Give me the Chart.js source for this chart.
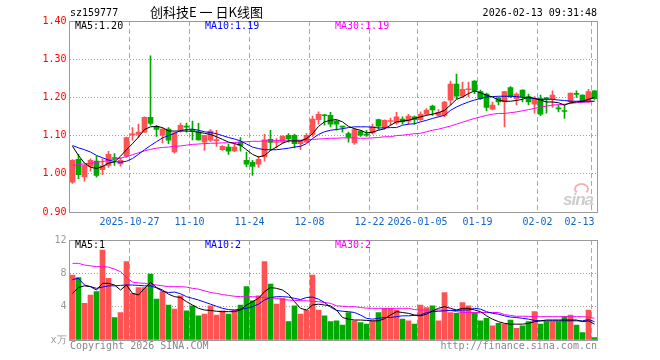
<!DOCTYPE html>
<html>
<head>
<meta charset="utf-8">
<script src="https://cdn.jsdelivr.net/npm/chart.js@4.4.1/dist/chart.umd.min.js"></script>
<style>
  body { margin: 0; background: #fff; }
  #wrap { position: relative; width: 660px; height: 360px; overflow: hidden; }
  canvas { position: absolute; left: 0; }
  .txt { position: absolute; font: 10px "DejaVu Sans Mono", monospace; line-height: 12px; white-space: nowrap; color: #000; }
</style>
</head>
<body>
<div id="wrap">
  <canvas id="kline" width="660" height="232" style="top:0"></canvas>
  <canvas id="vol" width="660" height="130" style="top:230px"></canvas>
  <div class="txt" style="left:70px;top:7px">sz159777</div>
  <div class="txt" style="left:150px;top:3px;font:13px 'Noto Sans CJK SC';line-height:18px">创科技E 一 日K线图</div>
  <div class="txt" style="right:63px;top:7px">2026-02-13 09:31:48</div>
  <div class="txt" style="left:70px;top:340px;color:#888">Copyright 2026 SINA.COM</div>
  <div class="txt" style="right:63px;top:340px;color:#888">http://finance.sina.com.cn</div>
  <div style="position:absolute;left:574px;top:183px;width:11px;height:8px;border:2px solid #f3b3b3;border-radius:50%;border-bottom-color:transparent"></div>
  <div style="position:absolute;left:563px;top:190px;font:italic bold 17px 'Liberation Sans';color:#cdcdcd;letter-spacing:-1px">sina</div>
</div>
<script>
// trading days shown
const dates = [
  '2025-10-13','2025-10-14','2025-10-15','2025-10-16','2025-10-17','2025-10-20','2025-10-21','2025-10-22','2025-10-23','2025-10-24',
  '2025-10-27','2025-10-28','2025-10-29','2025-10-30','2025-10-31','2025-11-03','2025-11-04','2025-11-05','2025-11-06','2025-11-07',
  '2025-11-10','2025-11-11','2025-11-12','2025-11-13','2025-11-14','2025-11-17','2025-11-18','2025-11-19','2025-11-20','2025-11-21',
  '2025-11-24','2025-11-25','2025-11-26','2025-11-27','2025-11-28','2025-12-01','2025-12-02','2025-12-03','2025-12-04','2025-12-05',
  '2025-12-08','2025-12-09','2025-12-10','2025-12-11','2025-12-12','2025-12-15','2025-12-16','2025-12-17','2025-12-18','2025-12-19',
  '2025-12-22','2025-12-23','2025-12-24','2025-12-25','2025-12-26','2025-12-29','2025-12-30','2025-12-31',
  '2026-01-05','2026-01-06','2026-01-07','2026-01-08','2026-01-09','2026-01-12','2026-01-13','2026-01-14','2026-01-15','2026-01-16',
  '2026-01-19','2026-01-20','2026-01-21','2026-01-22','2026-01-23','2026-01-26','2026-01-27','2026-01-28','2026-01-29','2026-01-30',
  '2026-02-02','2026-02-03','2026-02-04','2026-02-05','2026-02-06','2026-02-09','2026-02-10','2026-02-11','2026-02-12','2026-02-13'
];

const opens = [
  0.978,1.038,0.992,1.019,1.033,1.011,1.022,1.042,1.026,1.046,
  1.102,1.103,1.109,1.148,1.124,1.101,1.117,1.057,1.114,1.124,
  1.115,1.110,1.083,1.088,1.087,1.063,1.070,1.060,1.083,1.035,
  1.030,1.025,1.044,1.090,1.082,1.083,1.101,1.101,1.079,1.083,
  1.103,1.142,1.154,1.153,1.138,1.124,1.105,1.081,1.112,1.104,
  1.107,1.142,1.121,1.137,1.133,1.143,1.138,1.149,1.142,1.156,
  1.177,1.153,1.153,1.193,1.235,1.203,1.220,1.243,1.215,1.209,
  1.169,1.199,1.188,1.226,1.197,1.219,1.202,1.182,1.197,1.198,
  1.197,1.172,1.165,1.188,1.210,1.206,1.188,1.217
];
const highs = [
  1.037,1.051,1.024,1.039,1.046,1.039,1.059,1.053,1.042,1.096,
  1.121,1.130,1.149,1.309,1.127,1.119,1.121,1.109,1.133,1.133,
  1.138,1.132,1.101,1.116,1.114,1.074,1.077,1.080,1.095,1.057,
  1.035,1.046,1.103,1.114,1.092,1.100,1.105,1.104,1.087,1.105,
  1.151,1.162,1.156,1.161,1.140,1.125,1.109,1.119,1.114,1.114,
  1.130,1.143,1.141,1.146,1.161,1.149,1.156,1.151,1.162,1.171,
  1.180,1.168,1.190,1.243,1.261,1.240,1.240,1.244,1.219,1.211,
  1.188,1.200,1.216,1.228,1.212,1.220,1.209,1.202,1.206,1.200,
  1.217,1.180,1.180,1.211,1.217,1.207,1.221,1.218
];
const lows = [
  0.975,0.987,0.981,1.007,0.991,0.998,1.017,1.022,1.020,1.043,
  1.088,1.095,1.108,1.127,1.098,1.081,1.079,1.054,1.109,1.109,
  1.089,1.088,1.061,1.085,1.072,1.061,1.051,1.058,1.059,1.018,
  0.996,1.017,1.033,1.061,1.068,1.080,1.083,1.068,1.063,1.082,
  1.098,1.130,1.127,1.123,1.114,1.109,1.083,1.077,1.098,1.098,
  1.104,1.116,1.117,1.127,1.130,1.130,1.130,1.130,1.140,1.154,
  1.153,1.151,1.149,1.180,1.197,1.200,1.201,1.210,1.195,1.165,
  1.167,1.180,1.123,1.199,1.180,1.188,1.180,1.159,1.152,1.159,
  1.174,1.162,1.145,1.184,1.200,1.187,1.187,1.195
];
const closes = [
  1.035,0.998,1.022,1.035,0.996,1.021,1.051,1.040,1.035,1.095,
  1.104,1.109,1.148,1.132,1.116,1.117,1.088,1.107,1.127,1.122,
  1.113,1.089,1.101,1.112,1.089,1.072,1.059,1.070,1.074,1.025,
  1.019,1.038,1.089,1.082,1.084,1.098,1.092,1.079,1.086,1.101,
  1.143,1.156,1.152,1.130,1.130,1.122,1.095,1.116,1.101,1.101,
  1.123,1.125,1.140,1.139,1.149,1.136,1.151,1.142,1.156,1.167,
  1.167,1.161,1.188,1.235,1.203,1.221,1.222,1.217,1.197,1.174,
  1.180,1.188,1.215,1.202,1.209,1.202,1.188,1.195,1.156,1.196,
  1.206,1.170,1.163,1.211,1.208,1.188,1.215,1.197
];

// moving averages as drawn on the price panel
const ma5 = [
  1.072,1.048,1.028,1.017,1.014,1.019,1.028,1.031,1.046,1.063,
  1.079,1.096,1.116,1.123,1.124,1.121,1.112,1.112,1.112,1.112,
  1.111,1.109,1.106,1.103,1.097,1.090,1.083,1.079,1.075,1.063,
  1.051,1.044,1.048,1.061,1.070,1.080,1.086,1.086,1.086,1.092,
  1.105,1.124,1.136,1.140,1.142,1.136,1.124,1.118,1.114,1.107,
  1.109,1.114,1.118,1.127,1.136,1.138,1.140,1.145,1.149,1.153,
  1.156,1.160,1.166,1.180,1.195,1.201,1.210,1.217,1.212,1.206,
  1.201,1.193,1.190,1.190,1.192,1.195,1.201,1.197,1.193,1.188,
  1.188,1.186,1.180,1.186,1.188,1.190,1.195,1.200
];
const ma10 = [
  1.074,1.068,1.063,1.057,1.048,1.042,1.036,1.032,1.030,1.033,
  1.040,1.051,1.063,1.074,1.084,1.094,1.100,1.106,1.113,1.116,
  1.117,1.114,1.110,1.108,1.105,1.100,1.095,1.091,1.086,1.078,
  1.070,1.066,1.063,1.063,1.063,1.065,1.067,1.070,1.072,1.079,
  1.092,1.103,1.110,1.114,1.116,1.118,1.121,1.123,1.123,1.123,
  1.122,1.120,1.120,1.121,1.121,1.127,1.130,1.131,1.136,1.140,
  1.145,1.149,1.153,1.166,1.175,1.182,1.188,1.193,1.197,1.201,
  1.202,1.203,1.203,1.203,1.202,1.200,1.199,1.197,1.195,1.195,
  1.195,1.193,1.192,1.190,1.190,1.190,1.190,1.190
];
const ma30 = [
  1.022,1.024,1.026,1.028,1.030,1.032,1.035,1.038,1.041,1.045,
  1.050,1.055,1.060,1.064,1.067,1.069,1.070,1.072,1.073,1.075,
  1.077,1.078,1.079,1.080,1.080,1.081,1.081,1.082,1.083,1.084,
  1.085,1.085,1.086,1.086,1.087,1.088,1.088,1.088,1.088,1.089,
  1.090,1.091,1.092,1.093,1.093,1.094,1.094,1.094,1.093,1.093,
  1.094,1.095,1.097,1.097,1.100,1.101,1.103,1.105,1.106,1.110,
  1.114,1.117,1.121,1.125,1.130,1.135,1.140,1.145,1.149,1.153,
  1.156,1.158,1.158,1.160,1.162,1.165,1.168,1.171,1.175,1.177,
  1.180,1.181,1.182,1.184,1.186,1.187,1.188,1.190
];

// volume panel, in units of 10,000
const volumes = [
  7.8,7.5,4.4,5.4,5.8,10.8,7.4,2.7,3.3,9.4,
  5.6,6.3,6.3,7.9,4.9,5.8,4.2,3.7,5.3,3.5,
  4.1,2.9,3.1,4.1,3.0,3.5,3.1,3.6,4.2,6.4,
  4.7,5.3,9.4,6.7,4.3,5.0,2.2,4.1,3.1,3.6,
  7.8,3.6,2.9,2.2,2.3,1.8,3.3,2.3,2.1,1.9,
  2.3,3.3,3.8,3.8,3.6,2.5,2.3,1.9,4.2,3.9,
  4.1,2.3,5.7,3.3,3.2,4.5,4.1,3.3,2.3,2.6,
  1.7,2.0,1.9,2.4,1.4,1.7,2.2,3.4,1.9,2.2,
  2.2,2.2,2.8,3.0,1.8,0.9,3.6,0.3
];
const volMa5 = [
  5.6,6.3,6.5,6.4,6.0,6.8,6.8,6.6,6.0,6.6,
  5.6,5.4,6.2,6.9,6.3,6.0,5.5,5.2,5.1,4.6,
  4.2,3.8,3.6,3.55,3.45,3.4,3.4,3.4,3.6,4.2,
  4.6,5.0,5.8,6.3,6.2,6.0,5.5,4.6,3.8,3.6,
  4.2,4.3,4.2,4.1,3.6,2.7,2.5,2.4,2.4,2.35,
  2.3,2.3,2.55,3.0,3.4,3.3,3.2,3.0,2.9,3.1,
  3.5,3.8,4.0,3.8,3.6,3.8,3.8,3.6,3.4,2.9,
  2.5,2.2,2.0,1.9,1.9,1.9,2.0,2.2,2.3,2.4,
  2.4,2.4,2.4,2.4,2.4,2.2,2.3,1.9
];
const volMa10 = [
  7.25,7.4,6.6,6.4,6.2,6.35,6.5,6.5,6.55,6.6,
  6.6,6.55,6.5,6.5,6.25,5.85,5.7,5.75,5.55,5.2,
  5.0,4.8,4.55,4.3,4.05,3.8,3.65,3.6,3.7,3.8,
  4.0,4.3,4.8,5.1,5.2,5.2,5.15,5.0,4.85,5.1,
  5.15,4.9,4.5,3.95,3.55,3.45,3.4,3.3,3.0,2.6,
  2.5,2.6,2.7,2.7,2.8,2.9,2.9,2.95,3.0,3.3,
  3.4,3.45,3.5,3.55,3.55,3.6,3.6,3.8,3.7,3.4,
  3.2,3.1,2.9,2.75,2.7,2.6,2.5,2.35,2.3,2.3,
  2.3,2.3,2.3,2.3,2.3,2.3,2.45,2.2
];
const volMa30 = [
  9.2,9.2,9.0,8.9,8.8,8.8,8.75,8.5,8.2,7.5,
  6.95,6.85,6.8,6.7,6.6,6.5,6.4,6.4,6.4,6.35,
  6.2,6.1,5.9,5.7,5.6,5.45,5.35,5.25,5.2,5.2,
  5.2,5.15,5.1,5.05,5.0,4.85,4.8,4.75,4.72,4.7,
  4.65,4.6,4.5,4.4,4.1,4.05,4.0,4.0,3.9,3.82,
  3.8,3.8,3.8,3.8,3.8,3.8,3.8,3.65,3.6,3.6,
  3.6,3.6,3.6,3.55,3.4,3.3,3.3,3.3,3.3,3.3,
  3.3,3.3,3.05,2.95,2.85,2.85,2.85,2.8,2.8,2.8,
  2.8,2.8,2.8,2.8,2.8,2.8,2.75,2.6
];

// date axis
const axisDates = ['2025-10-27','2025-11-10','2025-11-24','2025-12-08','2025-12-22','2026-01-05','2026-01-19','2026-02-02','2026-02-13'];
const axisLabels = ['2025-10-27','11-10','11-24','12-08','12-22','2026-01-05','01-19','02-02','02-13'];

const RED = '#ff5252';
const GREEN = '#00a800';
const MONO = '"DejaVu Sans Mono", monospace';

const gridIdx = new Set(axisDates.map(d => dates.indexOf(d)));
const labelAt = {};
axisDates.forEach((d, k) => {
  let i = dates.indexOf(d);
  if (i === dates.length - 1) i -= 2; // keep the last label inside the frame
  labelAt[i] = axisLabels[k];
});
const candleColors = closes.map((c, i) => (c >= opens[i] ? RED : GREEN));

function xScale(showLabels, height) {
  return {
    type: 'category',
    offset: true,
    grid: {
      offset: true,
      drawTicks: false,
      color: ctx => (gridIdx.has(ctx.index) ? '#aaaaaa' : 'rgba(0,0,0,0)')
    },
    border: { display: false, dash: [5, 3] },
    ticks: {
      display: showLabels,
      autoSkip: false,
      maxRotation: 0,
      minRotation: 0,
      padding: 4,
      labelOffset: -3,
      color: '#1166cc',
      font: { family: MONO, size: 10 },
      callback: (v, i) => labelAt[i] || ''
    },
    afterFit: s => { s.height = height; }
  };
}

function maLine(data, color) {
  return { type: 'line', data, borderColor: color, borderWidth: 1, pointRadius: 0, tension: 0, order: 0 };
}

// frame around the plot and the MA legend
function panelPlugin(legend) {
  return {
    id: 'panel',
    afterDraw(chart) {
      const { ctx, chartArea: a } = chart;
      ctx.save();
      ctx.setLineDash([]);
      ctx.strokeStyle = '#9a9a9a';
      ctx.lineWidth = 1;
      const top = Math.round(a.top) + 0.5;
      ctx.strokeRect(a.left, top, a.right - a.left, Math.round(a.bottom) - Math.round(a.top));
      ctx.font = '10px ' + MONO;
      ctx.textBaseline = 'middle';
      legend.forEach(item => {
        ctx.fillStyle = item.color;
        ctx.fillText(item.text, item.x, a.top + 5.5);
      });
      ctx.restore();
    }
  };
}

new Chart(document.getElementById('kline'), {
  type: 'bar',
  data: {
    labels: dates,
    datasets: [
      maLine(ma5, '#000000'),
      maLine(ma10, '#0000ff'),
      maLine(ma30, '#ff00ff'),
      {
        data: lows.map((l, i) => [l, highs[i]]),
        backgroundColor: candleColors,
        barThickness: 1,
        grouped: false,
        order: 2
      },
      {
        data: opens.map((o, i) => [o, closes[i]]),
        backgroundColor: candleColors,
        barThickness: 5,
        minBarLength: 1,
        grouped: false,
        order: 1
      }
    ]
  },
  options: {
    responsive: false,
    devicePixelRatio: 1,
    animation: false,
    layout: { padding: { top: 21, right: 62.5, left: 0, bottom: 0 } },
    plugins: { legend: { display: false }, tooltip: { enabled: false } },
    scales: {
      x: xScale(true, 20),
      y: {
        min: 0.9,
        max: 1.4,
        beginAtZero: false,
        grid: {
          drawTicks: false,
          color: ctx => (ctx.index > 0 && ctx.index < 5 ? '#a0a0a0' : 'rgba(0,0,0,0)')
        },
        border: { display: false, dash: [1, 2] },
        ticks: {
          stepSize: 0.1,
          padding: 3,
          color: '#ff0000',
          font: { family: MONO, size: 10 },
          callback: v => v.toFixed(2)
        },
        afterFit: s => { s.width = 69.5; }
      }
    }
  },
  plugins: [panelPlugin([
    { text: 'MA5:' + ma5[ma5.length - 1].toFixed(2), x: 75, color: '#000000' },
    { text: 'MA10:' + ma10[ma10.length - 1].toFixed(2), x: 205, color: '#0000ff' },
    { text: 'MA30:' + ma30[ma30.length - 1].toFixed(2), x: 335, color: '#ff00ff' }
  ])]
});

new Chart(document.getElementById('vol'), {
  type: 'bar',
  data: {
    labels: dates,
    datasets: [
      maLine(volMa5, '#000000'),
      maLine(volMa10, '#0000ff'),
      maLine(volMa30, '#ff00ff'),
      {
        data: volumes,
        backgroundColor: candleColors,
        barThickness: 5,
        order: 1
      }
    ]
  },
  options: {
    responsive: false,
    devicePixelRatio: 1,
    animation: false,
    layout: { padding: { top: 10, right: 62.5, left: 0, bottom: 0 } },
    plugins: { legend: { display: false }, tooltip: { enabled: false } },
    scales: {
      x: xScale(false, 20),
      y: {
        min: 0,
        max: 12,
        grid: {
          drawTicks: false,
          color: ctx => (ctx.index > 0 && ctx.index < 3 ? '#a0a0a0' : 'rgba(0,0,0,0)')
        },
        border: { display: false, dash: [1, 2] },
        ticks: {
          stepSize: 4,
          padding: 3,
          color: '#999999',
          font: { family: MONO, size: 10 },
          callback: v => (v === 0 ? 'x万' : String(v))
        },
        afterFit: s => { s.width = 69.5; }
      }
    }
  },
  plugins: [panelPlugin([
    { text: 'MA5:' + Math.floor(volMa5[volMa5.length - 1]), x: 75, color: '#000000' },
    { text: 'MA10:' + Math.floor(volMa10[volMa10.length - 1]), x: 205, color: '#0000ff' },
    { text: 'MA30:' + Math.floor(volMa30[volMa30.length - 1]), x: 335, color: '#ff00ff' }
  ])]
});
</script>
</body>
</html>
